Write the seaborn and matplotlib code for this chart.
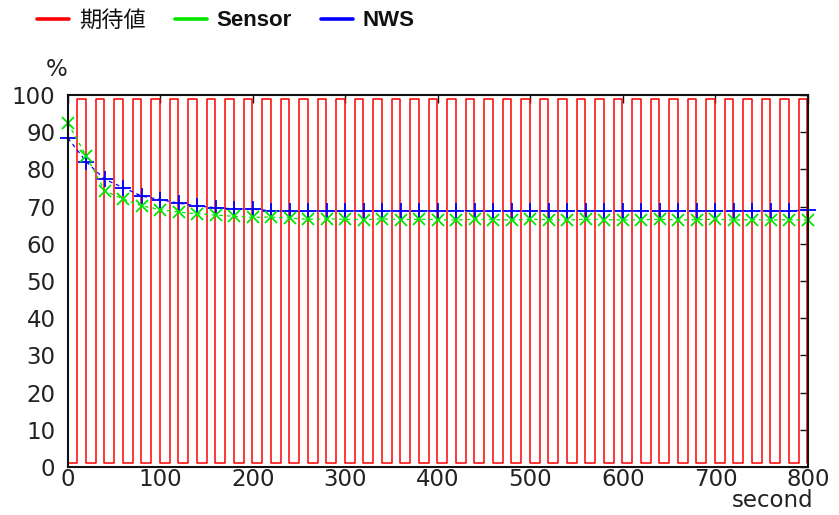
import matplotlib
matplotlib.use("Agg")
import matplotlib.pyplot as plt
from matplotlib.lines import Line2D
from matplotlib.font_manager import FontProperties
import numpy as np
import pandas as pd
import seaborn as sns

# Expected signal: pulse rises (to HIGH) and falls (to LOW), in seconds
pulse_rise = [10, 30, 50, 70, 90, 110, 130, 150, 170, 190,
              210, 230, 250, 270, 290, 310, 330, 350, 370, 390,
              410, 430, 450, 470, 490, 510, 530, 550, 570, 590,
              610, 630, 650, 670, 690, 710, 730, 750, 770, 790]
pulse_fall = [19, 39, 59, 79, 99, 119, 139, 159, 179, 199,
              219, 239, 259, 279, 299, 319, 339, 359, 379, 399,
              419, 439, 459, 479, 499, 519, 539, 559, 579, 599,
              619, 639, 659, 679, 699, 719, 739, 759, 779, 799]
expected_high = 99
expected_low = 1
t_end = 800

# Sampled measurements
sample_t = [0, 20, 40, 60, 80, 100, 120, 140, 160, 180,
            200, 220, 240, 260, 280, 300, 320, 340, 360, 380,
            400, 420, 440, 460, 480, 500, 520, 540, 560, 580,
            600, 620, 640, 660, 680, 700, 720, 740, 760, 780, 800]
sensor = [92.4, 83.5, 74.2, 72.0, 70.2, 69.2, 68.5, 68.1, 67.7, 67.4,
          67.1, 67.2, 66.9, 66.6, 66.7, 66.6, 66.5, 66.7, 66.5, 66.6,
          66.5, 66.4, 66.6, 66.5, 66.4, 66.6, 66.5, 66.4, 66.6, 66.5,
          66.4, 66.5, 66.6, 66.4, 66.5, 66.6, 66.4, 66.5, 66.4, 66.5, 66.4]
nws = [88.4, 82.0, 77.3, 75.1, 72.8, 71.9, 70.9, 70.2, 69.7, 69.4,
       69.3, 68.9, 68.7, 68.8, 68.9, 68.8, 68.9, 68.8, 68.9, 68.9,
       68.8, 68.9, 68.9, 68.8, 68.9, 68.9, 68.8, 68.9, 68.9, 68.8,
       68.9, 68.9, 68.8, 68.9, 68.9, 68.8, 68.9, 68.9, 68.8, 68.9, 69.0]

legend_labels = ["期待値", "Sensor", "NWS"]
x_ticks = [0, 100, 200, 300, 400, 500, 600, 700, 800]
y_ticks = [0, 10, 20, 30, 40, 50, 60, 70, 80, 90, 100]

sns.set_theme(style="white")
plt.rcParams["font.family"] = ["DejaVu Sans", "Noto Sans CJK JP"]

RED, GREEN, BLUE = "#ff0000", "#00e600", "#0000ff"

# step series for the expected signal
wave_t = [0]
wave_v = [expected_low]
for r, f in zip(pulse_rise, pulse_fall):
    wave_t += [r, f]
    wave_v += [expected_high, expected_low]
wave_t.append(t_end)
wave_v.append(expected_low)
wave = pd.DataFrame({"t": wave_t, "v": wave_v})
meas = pd.DataFrame({"t": sample_t, "sensor": sensor, "nws": nws})

fig = plt.figure(figsize=(8.39, 5.15), dpi=100)
ax = fig.add_axes([0.081, 0.0932, 0.882, 0.7223])

sns.lineplot(data=wave, x="t", y="v", ax=ax, estimator=None, sort=False,
             drawstyle="steps-post", color=RED, lw=1.1)
sns.lineplot(data=meas, x="t", y="nws", ax=ax, estimator=None, color=BLUE,
             lw=0.9, linestyle=(0, (3, 3)), marker="+", markersize=12,
             markeredgewidth=1.3, markeredgecolor=BLUE, clip_on=False)
sns.lineplot(data=meas, x="t", y="sensor", ax=ax, estimator=None, color=GREEN,
             lw=0.9, linestyle=(0, (3, 3)), marker="x", markersize=9,
             markeredgewidth=1.3, markeredgecolor=GREEN, clip_on=False)

ax.set_xlim(0, 800)
ax.set_ylim(0, 100)
ax.set_xticks(x_ticks)
ax.set_yticks(y_ticks)
ax.set_xlabel("")
ax.set_ylabel("")
for s in ax.spines.values():
    s.set_visible(True)
    s.set_color("#111111")
    s.set_linewidth(1.5)
ax.tick_params(axis="both", which="major", direction="in", length=6, width=1,
               color="#111111", top=True, right=True, labelsize=16.5,
               labelcolor="#222222")
ax.tick_params(axis="x", pad=1)
ax.tick_params(axis="y", pad=9)

fig.text(57 / 839, 1 - 69 / 515, "%", fontsize=16.5, color="#222222",
         ha="center", va="center")
fig.text(813 / 839, 1 - 507 / 515, "second", fontsize=16.5, color="#222222",
         ha="right", va="baseline")

handles = [Line2D([], [], color=c, lw=2.6) for c in (RED, GREEN, BLUE)]
leg = fig.legend(handles, legend_labels, loc="center left",
                 bbox_to_anchor=(37 / 839, 1 - 20 / 515), ncol=3, frameon=False,
                 handlelength=1.45, handletextpad=0.44, columnspacing=1.3,
                 borderaxespad=0, borderpad=0,
                 prop=FontProperties(family=["Liberation Sans Narrow", "Liberation Sans"],
                                     weight="bold", size=16))
texts = leg.get_texts()
texts[0].set_fontproperties(FontProperties(family=["Noto Sans CJK JP"], size=16))
for t in texts:
    t.set_color("#111111")

fig.savefig("out.png", dpi=100)
